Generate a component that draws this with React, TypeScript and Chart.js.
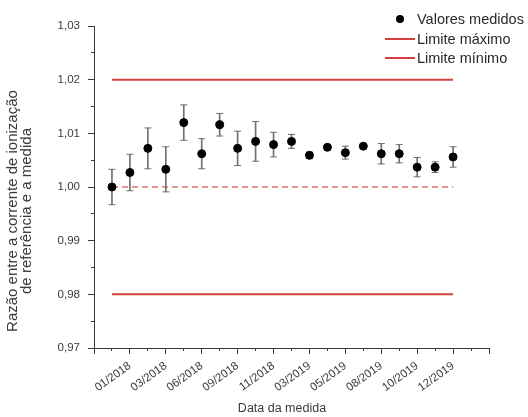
import React, { useEffect, useRef } from 'react';
import { Chart, registerables } from 'chart.js';

Chart.register(...registerables);

// Point positions (order of measurement) and measured values
const pointIndex = [0, 1, 2, 3, 4, 5, 6, 7, 8, 9, 10, 11, 12, 13, 14, 15, 16, 17, 18, 19];
const measured = [
  1.0, 1.0027, 1.0072, 1.0033, 1.012, 1.0062, 1.0116, 1.0072, 1.0085, 1.0079,
  1.0085, 1.0059, 1.0074, 1.0064, 1.0076, 1.0062, 1.0062, 1.0037, 1.0037, 1.0056,
];
const uncertainty = [
  0.0033, 0.0034, 0.0038, 0.0042, 0.0033, 0.0028, 0.0021, 0.0032, 0.0037, 0.0023,
  0.0013, 0.0006, 0.0005, 0.0012, 0.0003, 0.0019, 0.0017, 0.0018, 0.001, 0.0019,
];
const maxLimit = 1.02;
const minLimit = 0.98;
const reference = 1.0;
const limitSpan = [0, 19];

const xTickPositions = [-1, 1, 3, 5, 7, 9, 11, 13, 15, 17, 19, 21];
const xTickLabels = ['', '01/2018', '03/2018', '06/2018', '09/2018', '11/2018', '03/2019', '05/2019', '08/2019', '10/2019', '12/2019', ''];
const yMin = 0.97;
const yMax = 1.03;

const yTitle = ['Razão entre a corrente de ionização', 'de referência e a medida'];
const xTitle = 'Data da medida';
const legendLabels = ['Valores medidos', 'Limite máximo', 'Limite mínimo'];

const FONT = 'Liberation Sans, Arial, sans-serif';
const RED = '#d6403c';
const AXIS = '#3a3a3a';
const TEXT = '#3a3a3a';
const ERR = '#707070';

export default function App() {
  const ref = useRef<HTMLCanvasElement | null>(null);

  useEffect(() => {
    document.body.style.margin = '0';
    const ctx = ref.current!.getContext('2d')!;
    const pts = pointIndex.map((x, i) => ({ x, y: measured[i] }));
    const stems = pointIndex.map((x, i) => ({ x, y: [measured[i] - uncertainty[i], measured[i] + uncertainty[i]] }));
    const caps = pointIndex.flatMap((x, i) => [
      { x, y: measured[i] + uncertainty[i] },
      { x, y: measured[i] - uncertainty[i] },
    ]);
    const chart = new Chart(ctx, {
      type: 'scatter',
      data: {
        datasets: [
          {
            type: 'scatter',
            label: legendLabels[0],
            data: pts,
            backgroundColor: '#000',
            borderColor: '#000',
            pointRadius: 4,
            pointHoverRadius: 4,
            order: 0,
          } as any,
          {
            type: 'bar',
            label: 'err',
            data: stems,
            backgroundColor: ERR,
            borderWidth: 0,
            barThickness: 1,
            grouped: false,
            order: 2,
          } as any,
          {
            type: 'scatter',
            label: 'caps',
            data: caps,
            pointStyle: 'line',
            pointRadius: 3.5,
            pointHoverRadius: 3.5,
            borderColor: ERR,
            borderWidth: 1,
            order: 1,
          } as any,
          {
            type: 'line',
            label: legendLabels[1],
            data: limitSpan.map((x) => ({ x, y: maxLimit })),
            borderColor: RED,
            borderWidth: 2,
            pointRadius: 0,
            order: 3,
          } as any,
          {
            type: 'line',
            label: legendLabels[2],
            data: limitSpan.map((x) => ({ x, y: minLimit })),
            borderColor: RED,
            borderWidth: 2,
            pointRadius: 0,
            order: 3,
          } as any,
          {
            type: 'line',
            label: 'ref',
            data: limitSpan.map((x) => ({ x, y: reference })),
            borderColor: 'rgba(214,64,60,0.75)',
            borderWidth: 1.5,
            borderDash: [6, 4],
            pointRadius: 0,
            order: 3,
          } as any,
        ],
      },
      options: {
        animation: false,
        responsive: true,
        maintainAspectRatio: false,
        layout: { padding: { left: 0, top: 26, right: 39, bottom: 0 } },
        plugins: { legend: { display: false }, tooltip: { enabled: false } },
        scales: {
          x: {
            type: 'linear',
            position: 'bottom',
            min: -1,
            max: 21,
            offset: false,
            weight: 0,
            afterBuildTicks: (s: any) => {
              s.ticks = xTickPositions.map((v) => ({ value: v }));
            },
            afterFit: (s: any) => {
              s.height = 69;
            },
            ticks: {
              autoSkip: false,
              maxRotation: 36,
              minRotation: 36,
              padding: 5,
              color: TEXT,
              font: { family: FONT, size: 11.5 },
              callback: (v: any) => {
                const k = xTickPositions.indexOf(Number(v));
                return k >= 0 ? xTickLabels[k] : '';
              },
            },
            grid: { drawOnChartArea: false, offset: false, tickLength: 6, color: AXIS, tickWidth: 1 },
            border: { display: true, color: AXIS, width: 1 },
          },
          x2: {
            type: 'linear',
            position: 'bottom',
            min: -1,
            max: 21,
            offset: false,
            weight: -1,
            afterFit: (s: any) => {
              s.height = 0;
            },
            ticks: { display: false, stepSize: 1 },
            grid: { drawOnChartArea: false, offset: false, tickLength: 3, color: AXIS },
            border: { display: false },
          },
          y: {
            type: 'linear',
            position: 'left',
            min: yMin,
            max: yMax,
            beginAtZero: false,
            weight: 0,
            afterFit: (s: any) => {
              s.width = 94;
            },
            ticks: {
              stepSize: 0.01,
              padding: 8,
              color: TEXT,
              font: { family: FONT, size: 11.5 },
              callback: (v: any) => Number(v).toFixed(2).replace('.', ','),
            },
            grid: { drawOnChartArea: false, tickLength: 6, color: AXIS },
            border: { display: true, color: AXIS, width: 1 },
          },
          y2: {
            type: 'linear',
            position: 'left',
            min: yMin,
            max: yMax,
            beginAtZero: false,
            weight: -1,
            afterFit: (s: any) => {
              s.width = 0;
            },
            ticks: { display: false, stepSize: 0.005 },
            grid: { drawOnChartArea: false, tickLength: 3, color: AXIS },
            border: { display: false },
          },
        },
      } as any,
    });
    return () => chart.destroy();
  }, []);

  const textStyle: React.CSSProperties = {
    position: 'absolute',
    left: 417,
    fontFamily: FONT,
    fontSize: 14.5,
    color: '#2a2a2a',
    lineHeight: '16px',
    whiteSpace: 'nowrap',
  };

  return (
    <div style={{ position: 'absolute', left: 0, top: 0, width: 528, height: 417 }}>
      <canvas ref={ref} />
      <div style={{ position: 'absolute', left: 396, top: 15, width: 8, height: 8, borderRadius: 4, background: '#000' }} />
      <div style={{ ...textStyle, top: 11 }}>{legendLabels[0]}</div>
      <div style={{ position: 'absolute', left: 385, top: 38, width: 30, height: 2, background: RED }} />
      <div style={{ ...textStyle, top: 31 }}>{legendLabels[1]}</div>
      <div style={{ position: 'absolute', left: 385, top: 57, width: 30, height: 2, background: RED }} />
      <div style={{ ...textStyle, top: 50 }}>{legendLabels[2]}</div>
      <div
        style={{
          position: 'absolute',
          left: 19 - 150,
          top: 211 - 14,
          width: 300,
          height: 28,
          transform: 'rotate(-90deg)',
          textAlign: 'center',
          fontFamily: FONT,
          fontSize: 15,
          lineHeight: '13.5px',
          color: TEXT,
          whiteSpace: 'nowrap',
        }}
      >
        <div>{yTitle[0]}</div>
        <div>{yTitle[1]}</div>
      </div>
      <div
        style={{
          position: 'absolute',
          left: 282 - 100,
          top: 400,
          width: 200,
          textAlign: 'center',
          fontFamily: FONT,
          fontSize: 12.5,
          lineHeight: '16px',
          color: TEXT,
        }}
      >
        {xTitle}
      </div>
    </div>
  );
}
